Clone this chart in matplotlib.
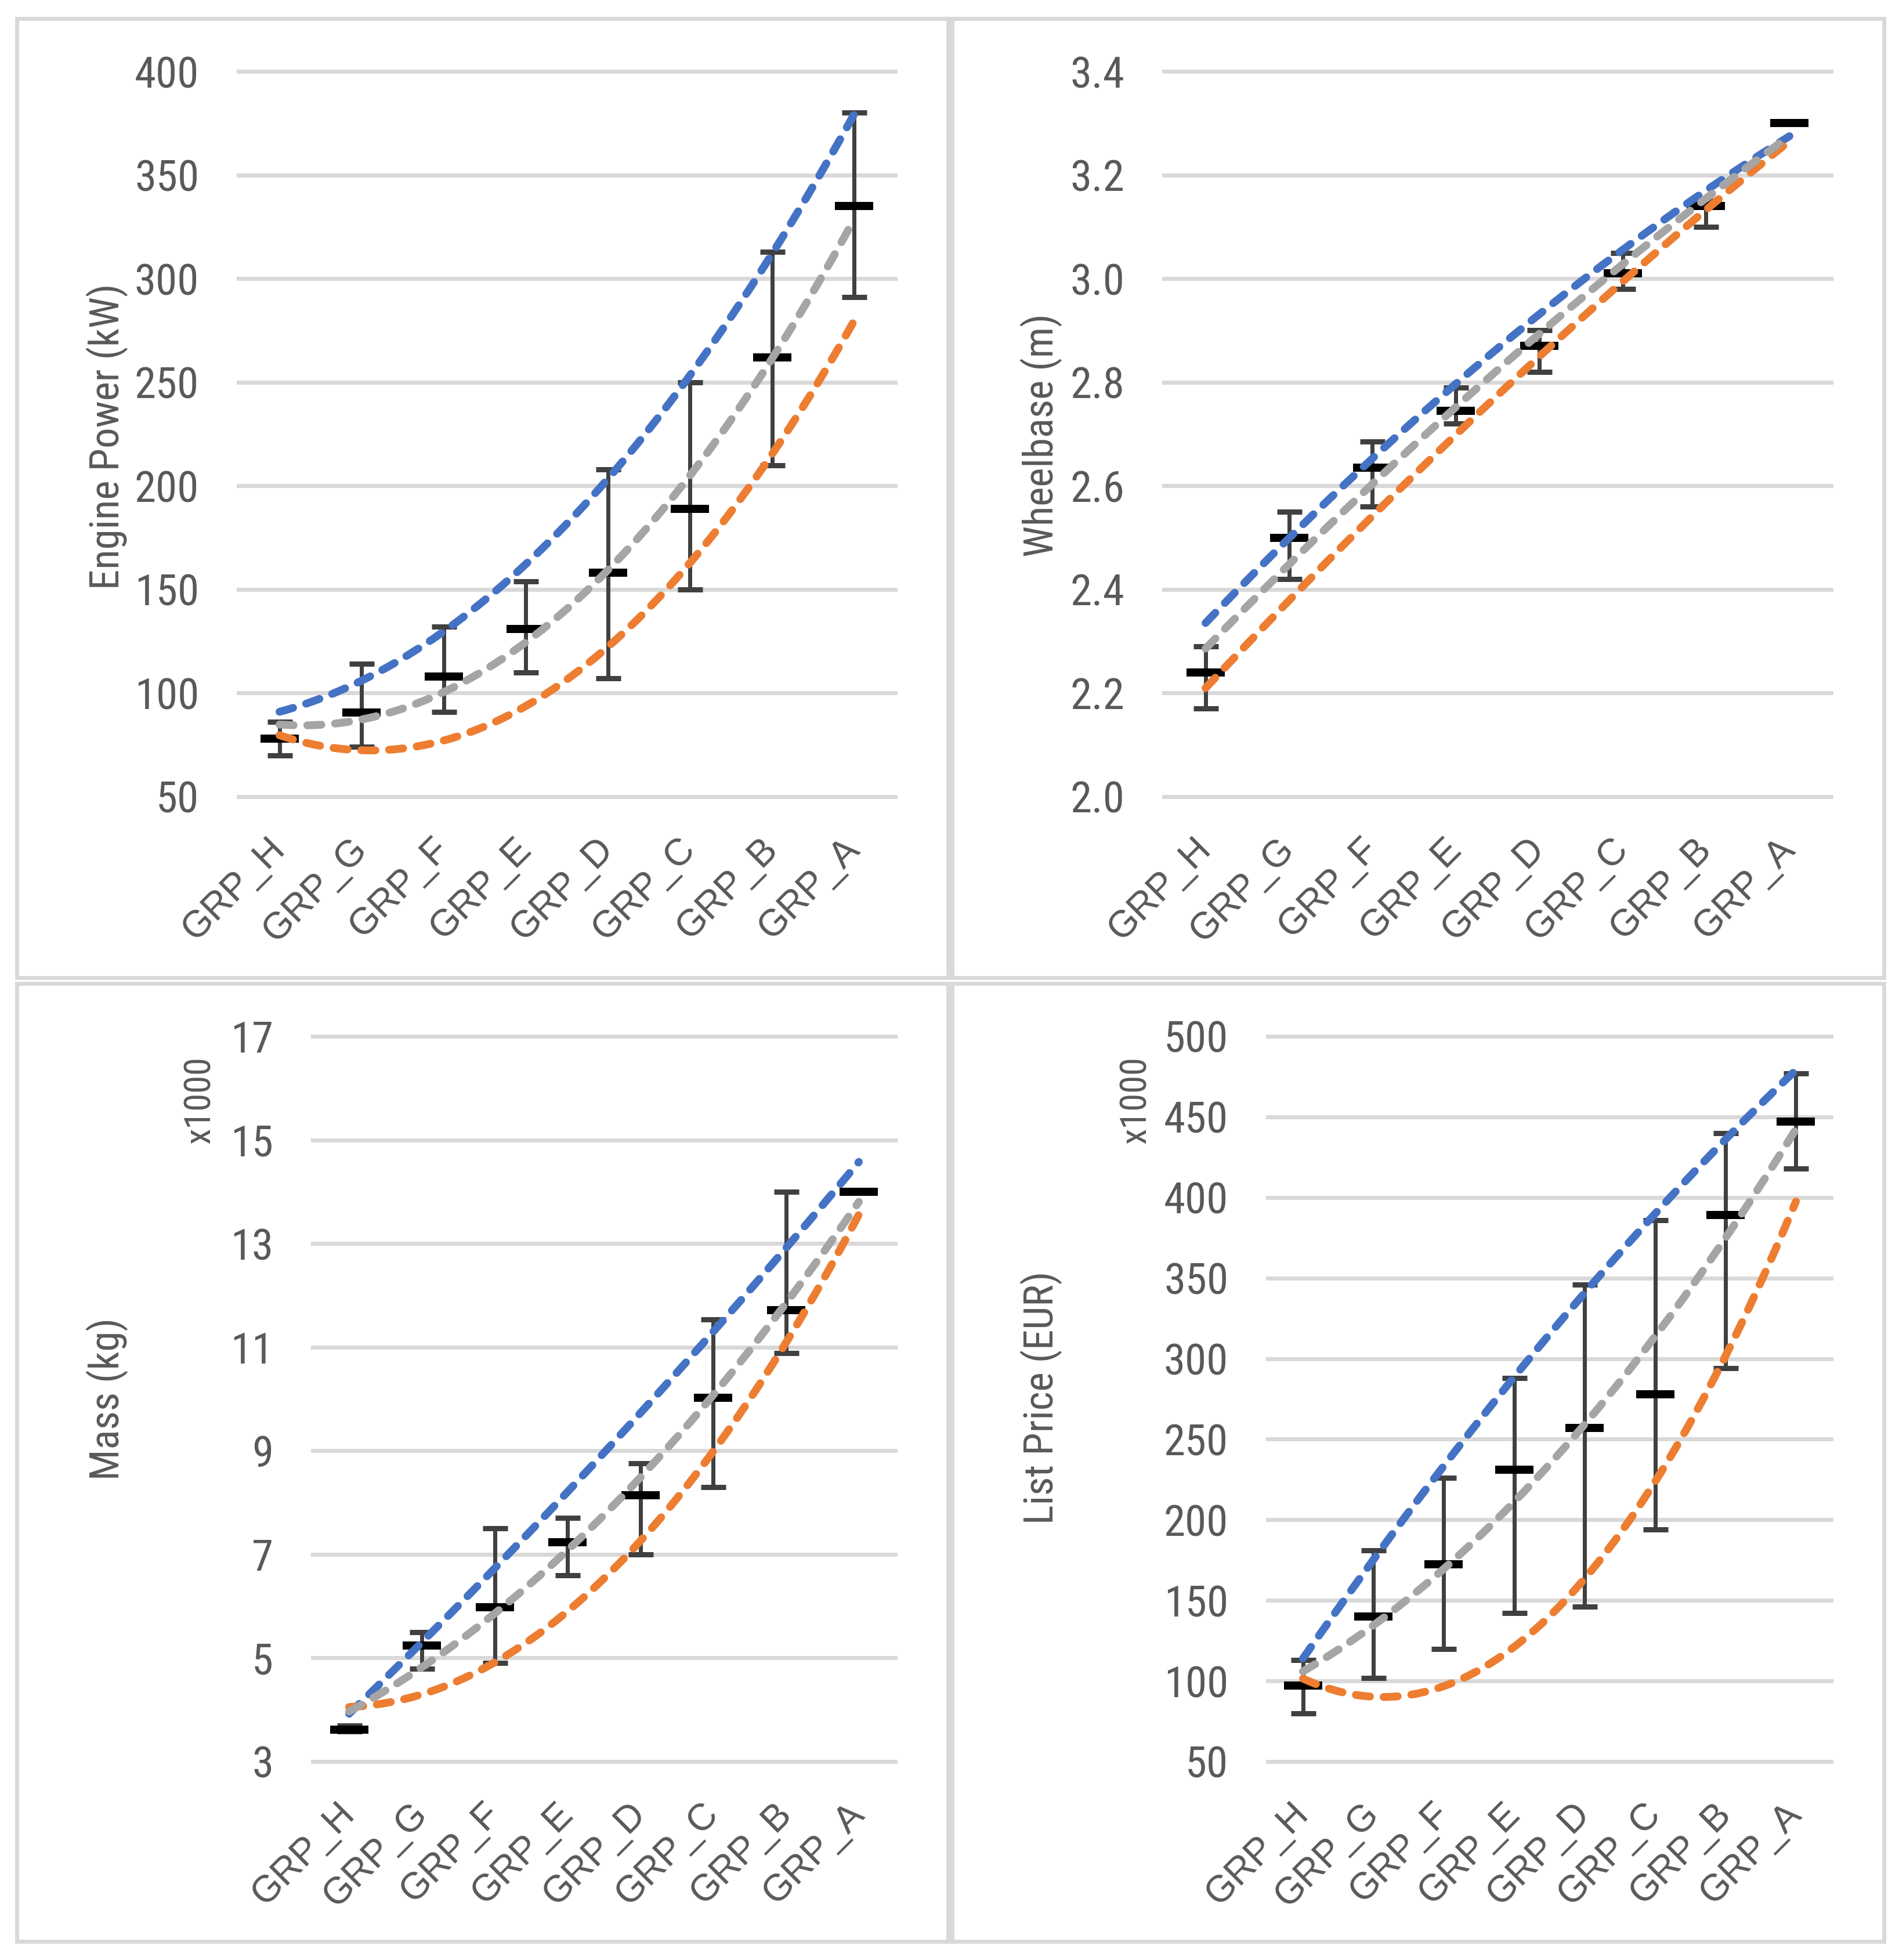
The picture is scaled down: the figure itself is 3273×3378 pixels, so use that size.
import numpy as np
import matplotlib
matplotlib.use('Agg')
import matplotlib.pyplot as plt
from matplotlib.patches import Rectangle

W, H = 3273, 3378
DPI = 300

groups = ['GRP_H', 'GRP_G', 'GRP_F', 'GRP_E', 'GRP_D', 'GRP_C', 'GRP_B', 'GRP_A']

# engine power (kW)
power_mean = [78, 90.5, 108, 131, 158, 189, 262, 335]
power_upper = [86, 114, 132, 154, 208, 250, 313, 380]
power_lower = [70, 74, 91, 110, 107, 150, 210, 291]

# wheelbase (m)
wb_mean = [2.24, 2.50, 2.635, 2.745, 2.87, 3.01, 3.14, 3.30]
wb_upper = [2.29, 2.55, 2.685, 2.79, 2.90, 3.05, 3.15, 3.30]
wb_lower = [2.17, 2.42, 2.56, 2.72, 2.82, 2.98, 3.10, 3.30]

# mass (kg)
mass_mean = [3620, 5240, 5980, 7230, 8140, 10020, 11710, 14000]
mass_upper = [3690, 5500, 7500, 7700, 8760, 11530, 14000, 14000]
mass_lower = [3580, 4790, 4900, 6600, 7000, 8300, 10890, 14000]

# list price (EUR)
price_mean = [97000, 140000, 172500, 231000, 257000, 278000, 389000, 447000]
price_upper = [113000, 181000, 226000, 288000, 346000, 386000, 440000, 477000]
price_lower = [80000, 102000, 120000, 142000, 146000, 194000, 294000, 418000]

power_ticks = [50, 100, 150, 200, 250, 300, 350, 400]
wb_ticks = [2.0, 2.2, 2.4, 2.6, 2.8, 3.0, 3.2, 3.4]
mass_ticks = [3, 5, 7, 9, 11, 13, 15, 17]
price_ticks = [50, 100, 150, 200, 250, 300, 350, 400, 450, 500]

text_grey = '#595959'
grid_grey = '#D9D9D9'
stem_grey = '#404040'
blue = '#4472C4'
orange = '#ED7D31'
grey = '#A5A5A5'

NARROW = ['Roboto Condensed', 'Liberation Sans', 'DejaVu Sans']
REGULAR = ['Liberation Sans', 'DejaVu Sans']


def px(v):
    # pixels -> points
    return v * 72.0 / DPI


def panel(rect, mean, upper, lower, ticks, fmt, scale=1.0):
    ax = fig.add_axes(rect)
    x = np.arange(len(groups))
    mean = np.array(mean) / scale
    upper = np.array(upper) / scale
    lower = np.array(lower) / scale

    for t in ticks:
        ax.axhline(t, color=grid_grey, lw=px(7), zorder=0, clip_on=False)

    eb = ax.errorbar(x, mean, yerr=[mean - lower, upper - mean], fmt='none',
                     ecolor=stem_grey, elinewidth=px(7), capsize=px(21.5),
                     capthick=px(9), zorder=3)
    for cap in eb[1]:
        cap.set_color('black')
    ax.plot(x, mean, ls='none', marker='_', ms=px(67), mew=px(14),
            color='black', zorder=4)

    # 2nd order trendlines
    xx = np.linspace(0, len(groups) - 1, 300)
    for vals, col, z in [(upper, blue, 5), (lower, orange, 6), (mean, grey, 7)]:
        c = np.polyfit(x, vals, 2)
        ax.plot(xx, np.polyval(c, xx), color=col, lw=px(13.5),
                dashes=(1.8, 1.75), dash_capstyle='round', zorder=z)

    ax.set_xlim(-0.5, len(groups) - 0.5)
    ax.set_ylim(ticks[0], ticks[-1])
    for s in ax.spines.values():
        s.set_visible(False)
    ax.set_yticks(ticks)
    ax.set_yticklabels([fmt.format(t) for t in ticks], fontsize=18,
                       color=text_grey, family=NARROW)
    ax.set_xticks(x)
    ax.set_xticklabels(groups, fontsize=15.5, color=text_grey, family=REGULAR,
                       rotation=45, rotation_mode='anchor', ha='right', va='center')
    ax.tick_params(axis='y', length=0, pad=px(68))
    ax.tick_params(axis='x', length=0, pad=px(81))
    return ax


def ftext(x, y, s, size, rot=90):
    fig.text(x / W, 1 - y / H, s, rotation=rot, ha='center', va='center',
             fontsize=size, color=text_grey, family=NARROW)


fig = plt.figure(figsize=(W / DPI, H / DPI), dpi=DPI)

# panel frames
for x0, y0, x1, y1 in [(29, 32, 1634, 1685), (1641, 32, 3247, 1685),
                       (29, 1695, 1634, 3346), (1641, 1695, 3247, 3346)]:
    fig.add_artist(Rectangle((x0 / W, 1 - y1 / H), (x1 - x0) / W, (y1 - y0) / H,
                             transform=fig.transFigure, fill=False,
                             edgecolor=grid_grey, lw=px(7)))

top_b, top_h = 1 - 1373 / H, (1373 - 123) / H
bot_b, bot_h = 1 - 3036 / H, (3036 - 1786) / H

panel([411 / W, top_b, (1543 - 411) / W, top_h],
      power_mean, power_upper, power_lower, power_ticks, '{:.0f}')
panel([2006 / W, top_b, (3156 - 2006) / W, top_h],
      wb_mean, wb_upper, wb_lower, wb_ticks, '{:.1f}')
panel([539 / W, bot_b, (1543 - 539) / W, bot_h],
      mass_mean, mass_upper, mass_lower, mass_ticks, '{:.0f}', scale=1000)
panel([2185 / W, bot_b, (3156 - 2185) / W, bot_h],
      price_mean, price_upper, price_lower, price_ticks, '{:.0f}', scale=1000)

ftext(185, 752, 'Engine Power (kW)', 17)
ftext(1795, 750, 'Wheelbase (m)', 17)
ftext(185, 2411, 'Mass (kg)', 17)
ftext(1795, 2409, 'List Price (EUR)', 17)
ftext(345, 1896, 'x1000', 15)
ftext(1958, 1896, 'x1000', 15)

fig.savefig('out.png', dpi=DPI)
